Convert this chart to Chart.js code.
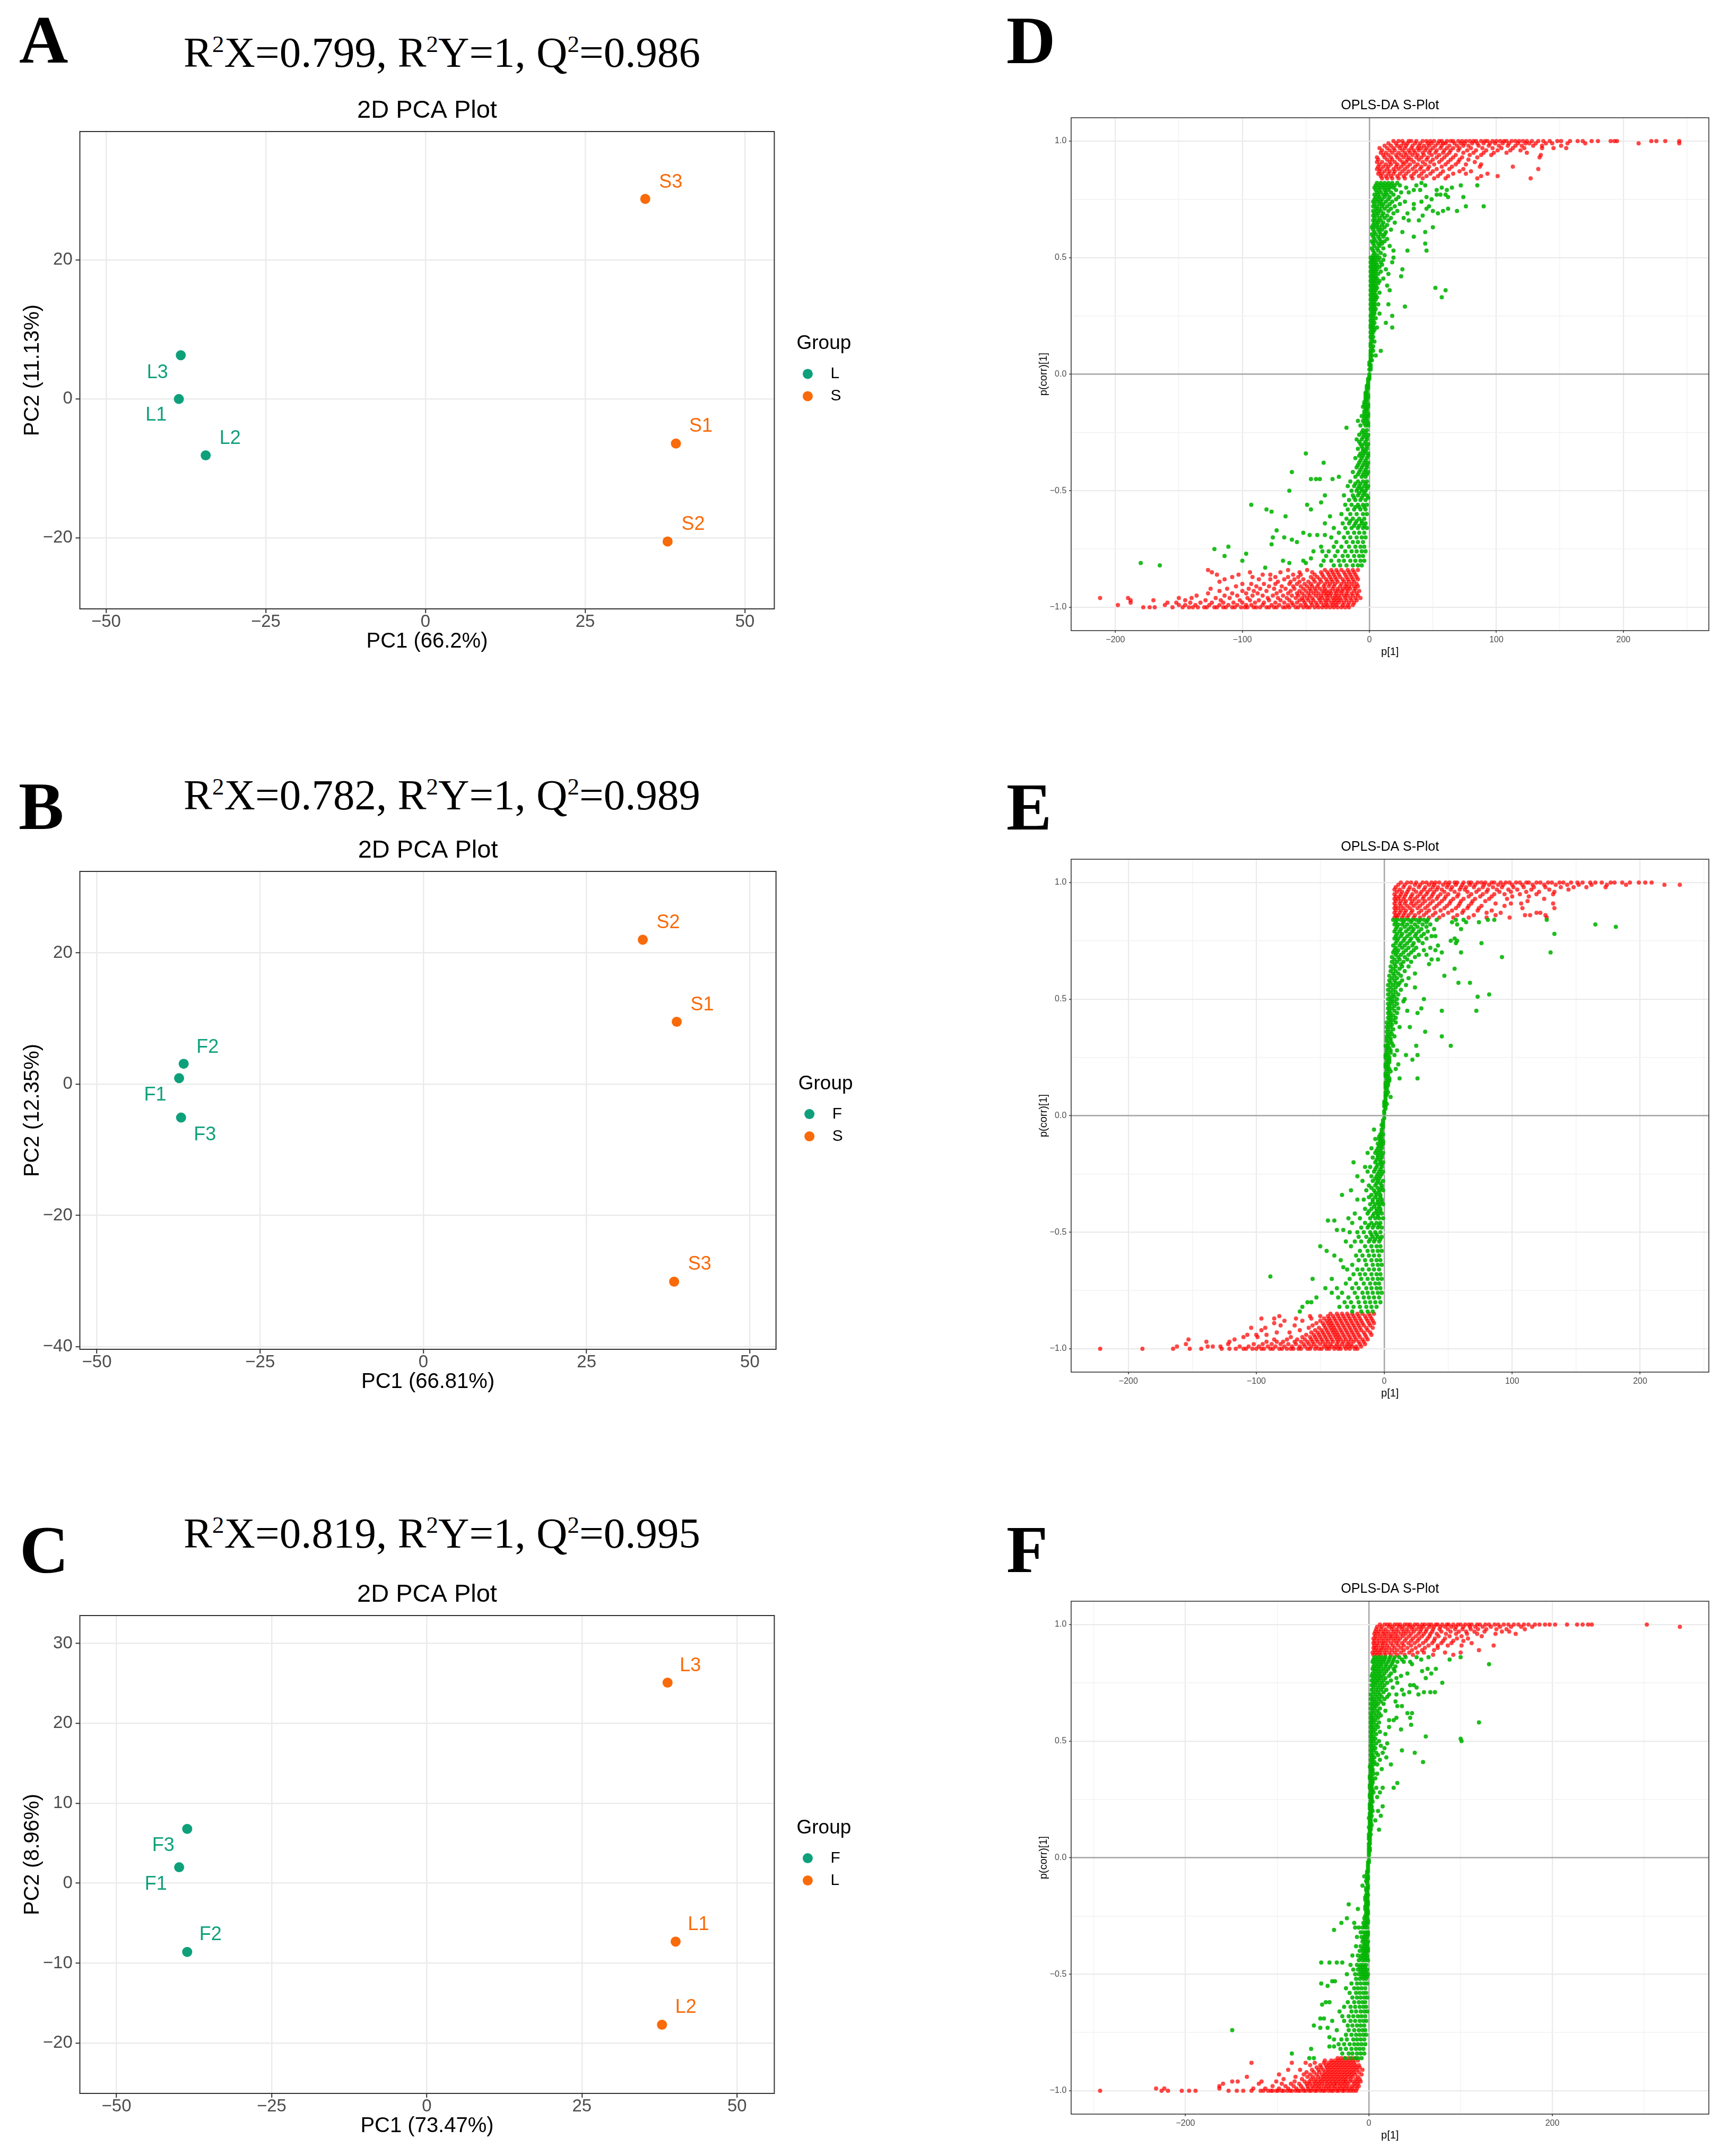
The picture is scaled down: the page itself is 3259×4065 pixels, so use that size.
<!DOCTYPE html>
<html>
<head>
<meta charset="utf-8">
<title>PCA and OPLS-DA S-plots</title>
<script src="https://cdn.jsdelivr.net/npm/chart.js@4.4.1/dist/chart.umd.min.js"></script>
<style>
  html, body { margin: 0; padding: 0; background: #fff; }
  body { width: 3259px; height: 4065px; position: relative; overflow: hidden; }
  .box { position: absolute; }
  .letter { position: absolute; font: bold 128px/128px "Liberation Serif", "Times New Roman", serif; color: #000; }
  .stats { position: absolute; width: 1100px; text-align: center; white-space: nowrap;
           font: 81px/81px "Liberation Serif", "Times New Roman", serif; color: #000; }
  .stats sup { font-size: 45px; line-height: 0; vertical-align: baseline; position: relative; top: -28px; }
</style>
</head>
<body>

<div class="letter" style="left:36px;top:11px">A</div>
<div class="stats" style="left:283px;top:59px">R<sup>2</sup>X=0.799, R<sup>2</sup>Y=1, Q<sup>2</sup>=0.986</div>
<div class="box" style="left:0;top:138px;width:1650px;height:1110px"><canvas id="pcaA"></canvas></div>

<div class="letter" style="left:35px;top:1456px">B</div>
<div class="stats" style="left:283px;top:1459px">R<sup>2</sup>X=0.782, R<sup>2</sup>Y=1, Q<sup>2</sup>=0.989</div>
<div class="box" style="left:0;top:1533px;width:1650px;height:1111px"><canvas id="pcaB"></canvas></div>

<div class="letter" style="left:37px;top:2858px">C</div>
<div class="stats" style="left:283px;top:2851px">R<sup>2</sup>X=0.819, R<sup>2</sup>Y=1, Q<sup>2</sup>=0.995</div>
<div class="box" style="left:0;top:2936px;width:1650px;height:1111px"><canvas id="pcaC"></canvas></div>

<div class="letter" style="left:1897px;top:12px">D</div>
<div class="box" style="left:1930px;top:169px;width:1329px;height:1085px"><canvas id="splotD"></canvas></div>

<div class="letter" style="left:1897px;top:1457px">E</div>
<div class="box" style="left:1930px;top:1567px;width:1329px;height:1085px"><canvas id="splotE"></canvas></div>

<div class="letter" style="left:1897px;top:2857px">F</div>
<div class="box" style="left:1930px;top:2966px;width:1329px;height:1085px"><canvas id="splotF"></canvas></div>

<script>
// ---- PCA scores ----
const aNames = ['L1', 'L2', 'L3', 'S1', 'S2', 'S3'];
const aGroup = ['L', 'L', 'L', 'S', 'S', 'S'];
const aPC1 = [-38.6, -34.4, -38.3, 39.2, 37.9, 34.4];
const aPC2 = [0.0, -8.1, 6.3, -6.4, -20.5, 28.8];

const bNames = ['F1', 'F2', 'F3', 'S1', 'S2', 'S3'];
const bGroup = ['F', 'F', 'F', 'S', 'S', 'S'];
const bPC1 = [-37.4, -36.7, -37.1, 38.8, 33.6, 38.4];
const bPC2 = [0.9, 3.1, -5.1, 9.5, 22.0, -30.1];

const cNames = ['F1', 'F2', 'F3', 'L1', 'L2', 'L3'];
const cGroup = ['F', 'F', 'F', 'L', 'L', 'L'];
const cPC1 = [-39.9, -38.6, -38.6, 40.1, 37.9, 38.8];
const cPC2 = [2.0, -8.6, 6.8, -7.3, -17.7, 25.1];

const pcaXTitles = ['PC1 (66.2%)', 'PC1 (66.81%)', 'PC1 (73.47%)'];
const pcaYTitles = ['PC2 (11.13%)', 'PC2 (12.35%)', 'PC2 (8.96%)'];

// tick positions
const pcaXTicks = [-50, -25, 0, 25, 50];
const aYTicks = [-20, 0, 20];
const bYTicks = [-40, -20, 0, 20];
const cYTicks = [-20, -10, 0, 10, 20, 30];
const deXTicks = [-200, -150, -100, -50, 0, 50, 100, 150, 200, 250];
const fXTicks = [-300, -200, -100, 0, 100, 200, 300];
const sYTicks = [-1, -0.75, -0.5, -0.25, 0, 0.25, 0.5, 0.75, 1];

// ---- S-plot loadings, rows of [p(corr), p1, p1, ...] ----
const dRedUp = [
  [1.00,19,23,26,31,33,37,42,45,48,51,55,57,61,64,66,70,73,76,79,82,84,88,91,93,97,100,103,106,108,112,115,118,121,124,128,133,137,142,148,151,158,164,168,175,180,190,193,195,222,226,233,244],
  [.99,15,21,27,30,36,40,46,49,54,58,60,67,72,75,81,85,90,95,99,105,110,117,123,126,131,139,144,156,170,212,244],
  [.98,12,17,22,25,29,34,39,43,47,52,57,63,69,74,78,86,94,102,109,115,120,129,136,151],
  [.97,8,14,19,24,28,33,38,41,45,50,56,61,66,71,80,89,97,104,113,122,136,145,155],
  [.96,10,16,20,26,31,35,39,44,48,53,59,64,70,77,84,92,101,111,119],
  [.95,9,13,18,23,28,32,36,42,47,52,58,63,74,82,90,98,108,124],
  [.94,11,15,21,25,29,34,38,43,49,55,61,68,79,88,96,135],
  [.93,6,12,17,22,27,31,37,41,46,53,59,66,73,85,134],
  [.92,7,14,18,24,30,33,39,45,50,57,64,71,78],
  [.91,6,10,16,20,26,29,35,42,48,55,62,70,83],
  [.90,8,13,17,22,27,32,38,44,51,60,68,76,88],
  [.89,7,11,15,21,25,30,36,41,47,57,65,87,113],
  [.88,6,9,14,19,23,28,34,40,46,53,63,74,133],
  [.87,8,12,16,20,26,31,37,43,50,58,71,80],
  [.86,7,10,15,19,24,29,35,41,48,56,66,76,93],
  [.85,9,13,17,22,27,33,39,45,54,62,88,101],
  [.84,10,14,18,23,28,34,42,51,60,85,127]
];
const dRedLow = [
  [-1.00,-178,-173,-169,-155,-147,-142,-139,-135,-130,-128,-122,-120,-115,-113,-108,-106,-101,-98,-96,-91,-89,-86,-81,-79,-75,-73,-68,-66,-63,-58,-56,-52,-49,-47,-43,-40,-37,-34,-31,-28,-25,-22,-19,-16],
  [-.99,-198,-161,-150,-145,-137,-126,-118,-111,-104,-97,-93,-84,-77,-71,-64,-60,-54,-50,-45,-41,-36,-33,-29,-26,-21,-17,-13],
  [-.98,-188,-159,-152,-141,-133,-124,-115,-107,-100,-90,-83,-74,-67,-61,-57,-51,-46,-42,-38,-34,-30,-27,-24,-20,-16,-12],
  [-.97,-188,-170,-145,-129,-117,-102,-94,-87,-79,-70,-63,-55,-52,-48,-44,-39,-35,-32,-28,-25,-22,-18,-14,-10],
  [-.96,-212,-190,-150,-140,-121,-110,-96,-80,-72,-65,-58,-53,-49,-45,-40,-37,-33,-29,-26,-23,-19,-15,-11,-7],
  [-.95,-136,-114,-104,-92,-84,-76,-68,-61,-56,-51,-47,-42,-38,-34,-31,-27,-24,-20,-17,-13,-9],
  [-.94,-127,-108,-97,-88,-73,-64,-57,-53,-48,-44,-40,-36,-33,-30,-26,-22,-18,-14,-10],
  [-.93,-118,-100,-91,-81,-70,-62,-55,-50,-46,-42,-37,-34,-31,-27,-24,-21,-17,-12,-8],
  [-.92,-125,-112,-95,-86,-75,-66,-59,-52,-47,-43,-39,-35,-29,-25,-21,-18,-15,-11],
  [-.91,-105,-89,-79,-69,-60,-54,-49,-45,-41,-36,-32,-28,-23,-19,-16,-12,-9],
  [-.90,-100,-93,-83,-74,-63,-57,-51,-46,-40,-35,-31,-27,-22,-18,-14,-10],
  [-.89,-118,-72,-62,-55,-48,-43,-38,-33,-29,-25,-20,-16,-12],
  [-.88,-114,-87,-78,-67,-59,-52,-44,-39,-34,-30,-26,-21,-17,-13,-9],
  [-.87,-108,-92,-74,-64,-56,-46,-41,-36,-31,-27,-23,-18,-14,-10],
  [-.86,-120,-103,-84,-78,-60,-54,-43,-37,-32,-28,-24,-19,-15,-11],
  [-.85,-124,-94,-70,-55,-45,-38,-33,-29,-25,-20,-16,-12],
  [-.84,-127,-64,-49,-35,-30,-26,-22,-17,-13,-9]
];
const dGreen = [
  [.82,6,9,12,15,18,22,41],[.81,5,8,11,14,17,20,24,37,44,72,85],[.80,4,7,10,13,16,19,29,57,65],
  [.79,5,8,12,15,21,35,40,53,61],[.78,6,9,13,17,25,31],[.77,4,7,11,14,19,53,56,60],
  [.76,5,8,12,16,23,45,62,74],[.75,4,7,10,15,21,49],[.74,3,6,9,13,18,28,41],[.73,4,8,11,16,24,35],
  [.72,3,6,10,14,20,47,76,90],[.71,5,8,12,17,35,45,62],[.70,3,6,9,15,22,50,58,69],[.69,4,7,11,19,30,54],
  [.68,3,6,10,14,42],[.67,4,8,12,17,27],[.66,3,6,9,15,31,39],[.65,4,7,11,20],[.64,3,6,10,14],
  [.63,2,5,8,12,50],[.62,3,7,10,17],[.61,4,8,13,26,44],[.60,2,5,9,12],[.59,3,7,11,35],[.58,4,8,14],
  [.57,2,5,9,12],[.56,3,7,10,44],[.55,4,8,16],[.54,2,6,11],[.53,3,7,19,30,45],[.52,4,9],[.51,3,6,12],
  [.50,1,3,5,8,19],[.49,2,4,7,11],[.48,1,3,5,9,18],[.47,2,4,6,10],[.46,1,3,5,8],[.45,2,4,6,13,26],[.44,1,3,5,9],
  [.43,2,4,7,15],[.42,1,3,5,25],[.41,2,4,6,11],[.40,1,3,5,8],[.39,2,4,7],[.38,1,3,5,14],[.37,2,4,6,52],
  [.36,1,3,5,16,60],[.35,2,4,8],[.34,1,3,5],[.33,2,4,6,57],[.32,1,3,5],[.31,2,4],[.30,1,3,4,7,15],[.29,2,4,28],
  [.28,1,3,5],[.27,2,4],[.26,2,4,8],[.25,1,3,18],[.24,2,5],[.23,1,3],[.22,2,4,13],[.21,1,3],[.20,1,3,6,18],
  [.19,2,4],[.18,1,3],[.17,2],[.16,1,3],[.15,2],[.14,2,4],[.13,1],[.12,1,3],[.11,2],[.10,1,3,9],[.09,1],
  [.08,1,2,5],[.07,1],[.06,1,2],[.05,0],[.04,0,1],[.03,1],[.02,0,1],[0,0],
  [-.01,0],[-.02,0,-1],[-.03,-1],[-.04,-1],[-.05,-1,-2],[-.06,-1,-2],[-.07,-2],[-.08,-2,-3],[-.09,-1,-3],
  [-.10,-1,-3],[-.11,-2,-3],[-.12,-2,-4],[-.13,-1,-4],[-.14,-1,-3,-5],[-.15,-2,-3],[-.16,-2,-4],[-.17,-1,-4],
  [-.18,-1,-3,-6],[-.19,-2,-4],[-.20,-2,-5,-9],[-.21,-1,-4],[-.22,-1,-3,-7],[-.23,-18],[-.24,-2,-5],
  [-.25,-3,-6],[-.26,-1,-4,-8],[-.27,-2,-5],[-.28,-2,-6,-10],[-.29,-3,-8],[-.30,-1,-4,-7],[-.31,-2,-6],
  [-.32,-2,-5,-9],[-.33,-3,-5],[-.34,-1,-4,-7,-50],[-.35,-1,-5,-8],[-.36,-2,-6,-11],[-.37,-3,-7],
  [-.38,-1,-4,-8,-36],[-.39,-2,-5,-9],[-.40,-2,-6,-10],[-.41,-3,-7],[-.42,-1,-4,-8,-13,-61],[-.43,-2,-5,-9],
  [-.44,-3,-6,-11,-24],[-.45,-29,-39,-42,-46],[-.46,-2,-5,-9,-15],[-.47,-3,-7,-11],[-.48,-1,-4,-8,-12,-17],
  [-.49,-2,-6,-9],[-.50,-3,-6,-10,-14,-63],[-.51,-4,-8],[-.52,-2,-5,-9,-13,-20,-35],[-.53,-1,-6,-12],
  [-.54,-3,-7,-11,-16],[-.55,-38],
  [-.56,-2,-5,-9,-14,-19,-49,-93],[-.57,-4,-8,-11],[-.58,-3,-7,-12,-17,-46,-81],[-.59,-77],[-.60,-2,-5,-10,-15,-22],
  [-.61,-31,-66],[-.62,-4,-8,-13,-18],[-.63,-6,-10,-15],[-.64,-3,-6,-11,-16,-21,-35],[-.65,-4,-8,-12],
  [-.66,-2,-5,-9,-14,-19,-28],[-.67,-73],
  [-.68,-4,-8,-12,-17,-24,-52],[-.69,-47,-41,-35],[-.70,-3,-6,-10,-15,-20,-30,-67,-76],[-.71,-61],
  [-.72,-5,-9,-13,-18,-26,-57],[-.73,-77],[-.74,-4,-7,-11,-16,-22,-28,-38,-111],[-.75,-122],
  [-.76,-3,-6,-10,-14,-19,-25,-32,-37,-44],[-.77,-97],[-.78,-5,-8,-12,-17,-21,-27,-34,-114],[-.79,-46],
  [-.80,-4,-7,-11,-15,-20,-24,-30,-36,-52,-68,-100],[-.81,-63,-50,-180],[-.82,-6,-9,-13,-18,-23,-28,-38,-165],
  [-.83,-82]
];

const eRedUp = [
  [1.00,13,18,21,25,30,33,37,40,43,48,51,55,57,62,66,68,73,76,79,84,86,91,95,98,103,106,111,113,119,122,128,131,137,140,146,151,155,161,165,170,177,180,186,192,199,204,209],
  [.99,11,16,24,28,35,39,46,50,56,61,67,71,78,82,89,93,100,108,116,125,134,143,152,162,174,189,219,231],
  [.98,9,15,20,27,32,38,42,49,53,60,64,70,77,85,92,101,109,117,126,138,148,158,173],
  [.97,8,12,19,23,31,36,41,45,52,59,63,74,81,88,97,104,115,129,144],
  [.96,10,14,18,25,29,34,39,47,55,65,72,80,90,99,111,121,133],
  [.95,8,13,17,22,28,33,38,44,50,58,68,77,86,94,106,119,132],
  [.94,9,12,16,21,26,31,37,42,48,57,66,75,84,100,113],
  [.93,8,11,15,20,24,30,35,41,47,54,62,71,82,96,125],
  [.92,9,13,17,22,27,32,38,45,52,60,69,79,112],
  [.91,8,12,16,21,25,30,36,43,51,59,68,87,99,107,132],
  [.90,9,13,18,23,28,34,41,49,58,66,76,94],
  [.89,8,11,15,20,26,32,39,47,56,65,74,108,133],
  [.88,9,13,17,22,29,35,44,53,62,73,84],
  [.87,8,12,16,21,27,33,40,50,61,80,91,119,122],
  [.86,9,11,15,19,24,31,38,46,57,70,87,110,114,126],
  [.85,8,10,14,18,23,28,35,43,54,66,80,98,127]
];
const eRedLow = [
  [-1.00,-222,-189,-165,-152,-143,-127,-121,-116,-110,-108,-103,-100,-96,-94,-89,-87,-82,-80,-76,-73,-71,-67,-65,-60,-58,-54,-51,-49,-45,-43,-39,-36,-34,-30,-27,-23,-21],
  [-.99,-162,-138,-134,-128,-113,-106,-98,-91,-85,-78,-72,-66,-62,-57,-53,-47,-44,-41,-38,-35,-31,-28,-25,-22,-18],
  [-.98,-155,-122,-102,-95,-88,-81,-75,-69,-63,-59,-55,-50,-46,-42,-37,-33,-29,-26,-19,-15],
  [-.97,-139,-121,-92,-84,-79,-70,-65,-60,-56,-52,-48,-44,-40,-36,-32,-28,-24,-20,-16],
  [-.96,-153,-117,-86,-76,-68,-62,-57,-53,-49,-45,-41,-37,-34,-30,-26,-22,-17,-13],
  [-.95,-110,-99,-73,-64,-58,-54,-50,-46,-42,-38,-35,-31,-27,-23,-19,-14],
  [-.94,-107,-100,-92,-61,-55,-51,-47,-43,-39,-36,-32,-28,-24,-20,-15,-10],
  [-.93,-84,-74,-57,-52,-48,-44,-40,-37,-33,-29,-25,-21,-16,-11],
  [-.92,-96,-66,-54,-49,-45,-41,-38,-34,-30,-26,-22,-18,-13],
  [-.91,-104,-93,-59,-51,-46,-42,-39,-35,-31,-27,-23,-19,-14,-9],
  [-.90,-81,-70,-56,-47,-43,-40,-36,-32,-28,-24,-20,-16,-11],
  [-.89,-86,-53,-48,-44,-41,-37,-33,-29,-25,-21,-17,-12,-8],
  [-.88,-78,-64,-50,-45,-42,-38,-34,-30,-26,-22,-18,-13,-9],
  [-.87,-96,-86,-69,-57,-47,-43,-39,-35,-31,-27,-23,-19,-14,-10],
  [-.86,-82,-58,-50,-44,-40,-36,-32,-28,-24,-20,-15,-11],
  [-.85,-42,-37,-33,-29,-25,-21,-17,-12,-8]
];
const eGreen = [
  [.84,7,10,13,16,19,22,25,28,31,34,41,56,62,81,86,127],[.83,9,15,21,27,33,53,64,74],[.82,8,11,14,18,24,30,36,57,165],
  [.81,10,16,21,26,33,181],[.80,9,13,19,23,29,39,60],[.79,8,12,17,22,27,34],[.78,10,14,20,25,31,133],
  [.77,9,13,18,24,29,37,40],[.76,8,11,16,21,26,33,55],[.75,10,15,20,27,52,57],[.74,9,13,18,23,30,56,76],
  [.73,7,12,16,22,42],[.72,9,14,19,25,36],[.71,8,11,17,23,31,40],[.70,7,10,15,21,45,60,130],[.69,9,13,19,27,33],
  [.68,6,11,16,24,92],[.67,8,12,18,37,42],[.66,6,10,15,21],[.65,8,13,35],[.64,5,9,14,19],[.63,7,12,55],
  [.62,5,9,16],[.61,7,11,24],[.60,4,8,13,47],[.59,6,10,19],[.58,4,8,14],[.57,5,9,12,58,67],[.56,3,7,11,17],
  [.55,5,9,24],[.54,3,7,13],[.53,5,9],[.52,3,7,11,82],[.51,5,8,73],[.50,3,6,10,16,31],[.49,5,8,15],[.48,3,6,10],
  [.47,4,8],[.46,3,6,11,29],[.45,4,8,18,45,72],[.44,3,5,10,26],[.43,4,7],[.42,3,5,9],[.41,4,7],[.40,2,5,9],
  [.39,3,6],[.38,2,5,12,20],[.37,3,7],[.36,2,5,32],[.35,3,6],[.34,2,4,8,45],[.33,2,5],[.32,2,5],[.31,3,6],
  [.30,1,3,7,25,52],[.29,2,4],[.28,2,5,10],[.27,2,5],[.26,1,3,8,17,26],[.25,1,4],[.24,2,4,22],[.23,2,4],
  [.22,1,3,11],[.21,1,3],[.20,2,4,9],[.19,2,5],[.18,1,3],[.17,1,3],[.16,2,4,12,26],[.15,2,4],[.14,1,3],
  [.13,1,3],[.12,1,2],[.11,2],[.10,1,3],[.09,1,2],[.08,1,5],[.07,1],[.06,0,1],[.05,0,2],[.04,0,1],[.03,1],
  [.02,0],[.01,0],
  [-.01,0],[-.02,-1],[-.03,-1],[-.04,-1,-2],[-.05,-1],[-.06,-2,-8],[-.07,-2],[-.08,-1,-3],[-.09,-2,-4],
  [-.10,-2,-4,-7],[-.11,-1,-3],[-.12,-1,-3,-5],[-.13,-2,-4],[-.14,-2,-5,-10],[-.15,-3,-6],
  [-.16,-1,-4,-7,-13],[-.17,-2,-5],[-.18,-2,-5,-9],[-.19,-3,-6],[-.20,-1,-3,-7,-24],[-.21,-2,-5],
  [-.22,-2,-6,-11,-15],[-.23,-3,-7],[-.24,-1,-4,-8,-13],[-.25,-2,-5],[-.26,-3,-6,-10,-21],[-.27,-4,-7],
  [-.28,-1,-5,-9,-17],[-.29,-3,-6],[-.30,-2,-7,-12],[-.31,-2,-5,-10],[-.32,-1,-4,-8,-14,-26],[-.33,-4,-7],
  [-.34,-3,-6,-10,-33],[-.35,-3,-7,-12],
  [-.36,-2,-5,-9,-16,-21],[-.37,-2,-5,-9],[-.38,-1,-4,-7,-11],[-.39,-4,-8],[-.40,-3,-6,-10,-15],
  [-.41,-3,-6,-12],[-.42,-2,-5,-8,-13,-23],[-.43,-5,-9],
  [-.44,-1,-4,-7,-11,-19,-28],[-.45,-44,-39],[-.46,-3,-6,-10,-15,-25],[-.47,-4,-8,-12],[-.48,-2,-5,-9,-13,-18],
  [-.49,-37,-32],[-.50,-3,-7,-11,-16,-21,-27],[-.51,-6,-10],[-.52,-2,-5,-9,-14,-20],[-.53,-3,-7,-11],
  [-.54,-4,-8,-12,-18,-23,-30],[-.56,-3,-6,-10,-15,-26,-50],
  [-.58,-2,-5,-9,-13,-19,-45],[-.60,-4,-8,-12,-17,-22,-39],[-.62,-3,-6,-10,-15,-20,-34],[-.64,-2,-5,-9,-14,-25],
  [-.65,-32],[-.66,-4,-8,-12,-17,-21,-29],[-.68,-3,-6,-10,-15,-19,-24],[-.69,-89],[-.70,-2,-5,-9,-13,-18,-27,-41,-56],
  [-.72,-4,-7,-11,-16,-22,-30],[-.74,-3,-6,-10,-14,-20,-25,-37,-46],[-.76,-2,-5,-9,-13,-17,-23,-33,-41],
  [-.78,-4,-8,-12,-16,-21,-28,-36,-53],[-.80,-3,-7,-11,-15,-20,-26,-31,-57,-60],[-.82,-6,-10,-14,-19,-24,-29,-35,-64],
  [-.84,-9,-13,-18,-25,-66]
];

const fRedUp = [
  [1.00,12,17,20,23,28,31,34,39,42,45,50,53,58,61,65,68,73,75,80,85,87,92,97,100,105,109,112,118,121,127,131,137,141,147,152,158,163,169,174,181,186,192,197,203,216,227,233,239,243,303],
  [.99,9,14,22,26,33,37,44,48,55,59,66,71,78,83,90,95,103,110,116,124,133,143,155,166,178,339],
  [.98,8,13,18,25,30,36,41,47,52,57,63,70,77,86,94,102,111,119,128,139,150,170],
  [.97,7,11,16,21,27,32,38,43,49,56,62,69,79,89,98,106,115,126,145,153],
  [.96,6,10,15,19,24,29,35,40,46,54,60,67,74,84,95,107,118,138,160],
  [.95,7,12,17,22,26,31,37,44,51,58,66,76,88,101,123],
  [.94,5,9,14,19,24,29,34,41,48,55,64,72,83,96,108],
  [.93,6,11,16,21,27,32,39,46,53,62,71,81,92,103],
  [.92,5,9,14,18,24,30,36,43,50,59,69,79,90,112],
  [.91,6,10,15,20,26,32,38,46,55,65,75,86,101,136],
  [.90,5,8,13,17,22,28,35,42,51,61,75],
  [.89,6,10,14,19,25,31,38,47,58,71,120],
  [.88,4,8,12,17,22,28,35,44,53,60,83,100],
  [.87,5,9,13,18,24,31,39,48,70,92]
];
const fRedLow = [
  [-1.00,-293,-226,-219,-204,-196,-189,-153,-144,-137,-128,-118,-115,-110,-107,-105,-101,-99,-95,-93,-89,-86,-84,-80,-77,-75,-71,-69,-65,-63,-59,-57,-53,-50,-48,-44,-41,-39,-35,-33,-29,-27,-23,-20,-17,-14],
  [-.99,-232,-223,-163,-126,-113,-98,-88,-79,-72,-66,-61,-56,-52,-47,-43,-38,-34,-30,-26,-22,-18,-13],
  [-.98,-163,-105,-91,-82,-74,-67,-62,-58,-54,-49,-45,-41,-37,-32,-28,-24,-19,-15,-11],
  [-.97,-159,-120,-95,-85,-76,-68,-64,-59,-55,-51,-46,-42,-38,-35,-31,-27,-23,-16,-12],
  [-.96,-149,-143,-117,-101,-81,-70,-65,-60,-56,-52,-48,-44,-40,-36,-32,-28,-25,-21,-17,-13,-9],
  [-.95,-93,-73,-63,-58,-53,-49,-45,-41,-37,-33,-29,-25,-20,-14,-10],
  [-.94,-133,-80,-67,-61,-55,-50,-46,-42,-38,-34,-30,-26,-22,-18,-12],
  [-.93,-98,-71,-64,-57,-51,-47,-43,-39,-35,-31,-27,-23,-19,-15,-8],
  [-.92,-68,-60,-54,-48,-44,-40,-36,-32,-28,-24,-20,-16,-11],
  [-.91,-88,-75,-62,-55,-50,-45,-41,-37,-33,-29,-25,-21,-17,-13,-7],
  [-.90,-57,-52,-46,-42,-38,-34,-30,-26,-22,-18,-14,-10],
  [-.89,-64,-53,-47,-43,-39,-35,-31,-27,-23,-19,-15,-11],
  [-.88,-128,-84,-69,-59,-49,-44,-40,-36,-32,-28,-24,-20,-16],
  [-.87,-48,-41,-37,-33,-29,-25,-21,-17,-12],
  [-.86,-34,-30,-26,-22,-18,-14]
];
const fGreen = [
  [.86,6,10,14,18,23,28,33,40,52,65,100],[.85,5,9,13,17,22,27,36,57,88],[.84,4,8,12,16,21,26,31,38,45],
  [.83,6,10,14,19,25,47,131],[.82,5,9,13,18,23,29],[.81,4,7,11,16,21,27,64,73],[.80,6,10,14,19,28,58],
  [.79,4,8,12,17,24,42,68],[.78,3,7,11,15,22,35],[.77,5,9,13,18,30,62],[.76,3,7,11,16,24],[.75,5,9,14,20,31,80],
  [.74,3,7,12,17,45,49],[.73,5,10,15,26,52],[.72,3,8,13,19,36],[.71,5,10,16,44,60,67,72],[.70,2,7,12,22,30,38,54],
  [.69,4,9,14,20],[.68,2,6,11,17],[.67,4,8,13,29],[.66,2,6,10,16],[.65,4,8,31,36],[.64,2,6,12],[.63,4,9,18],
  [.62,2,6,11,42,47],[.61,3,8,13],[.60,2,5,10,30,45],[.59,3,7,22,27],[.58,2,5,11,120],[.57,3,8,46],[.56,2,5,10,22],
  [.55,3,7,35],[.54,2,5,12],[.53,3,8,18],[.52,2,5,62],[.51,3,7,100],[.50,2,5,11,101],[.49,3,8,20],[.48,2,5,13],
  [.47,3,7,17],[.46,2,5,36],[.45,3,8,15,50],[.44,2,4,10],[.43,3,6,19],[.42,2,4,12],[.41,3,6,59],[.40,2,5,9,24],
  [.39,1,3],[.38,2,4,14],[.37,2,4],[.36,2,5,9],[.35,1,3],[.34,1,3,7],[.33,2,4],[.32,2,4,31],[.31,1,3],
  [.30,1,3,8,15,27],[.29,2,4],[.28,2,5,12],[.27,1,3],[.26,1,3,9],[.25,2,3],[.24,2,4],[.23,1,2],
  [.22,1,3,15],[.21,1,3],[.20,2,4,10],[.19,1,2],[.18,1,3,13],[.17,0,2],[.16,1,2,7],[.15,1,2],[.14,1,3],
  [.13,0,2],[.12,1,2,11],[.11,1],[.10,0,2],[.09,0,1],[.08,0,1],[.07,1],[.06,0,1],[.05,0],
  [.04,0,1],[.03,0,1],[.02,0],[.01,0],
  [-.01,0],[-.02,0,-1],[-.03,-1],[-.04,-1],[-.05,-1],[-.06,-1,-2],[-.07,-2],[-.08,-1,-5],[-.09,-1,-2],
  [-.10,-2,-3],[-.11,-2],[-.12,-1,-7],[-.13,-1,-3],[-.14,-2,-3],[-.15,-2],[-.16,-1,-3],[-.17,-2,-4],
  [-.18,-2,-4],[-.19,-1,-3],[-.20,-1,-3,-22],[-.21,-2,-4],[-.22,-2,-4,-12],[-.23,-1,-3],[-.24,-1,-3],
  [-.25,-2,-4],[-.26,-2,-5,-24],[-.27,-1,-4],[-.28,-1,-3,-6,-16,-30],[-.29,-3,-5],
  [-.30,-2,-4,-7,-11,-15],[-.31,-38],[-.32,-1,-3,-6,-9],[-.33,-1,-4],[-.34,-2,-5,-8,-13],[-.35,-3,-6],
  [-.36,-1,-4,-7],[-.37,-2,-5],[-.38,-2,-5,-9,-14],[-.39,-1,-4,-7],
  [-.40,-1,-3,-6,-10],[-.41,-3,-6],[-.42,-2,-5,-8,-12,-18],[-.43,-2,-5,-9],[-.44,-1,-4,-7,-11],
  [-.45,-52,-43,-35,-29],[-.46,-3,-6,-9,-13,-20],[-.47,-4,-7,-10],
  [-.48,-2,-5,-8,-12,-17],[-.49,-3,-6,-9],[-.50,-1,-4,-7,-11,-15,-24],[-.51,-2,-5,-8],[-.52,-3,-6,-10,-14],
  [-.53,-40,-37],
  [-.54,-2,-5,-9,-13,-19,-52],[-.55,-45],[-.56,-4,-8,-12,-16,-25],[-.58,-3,-6,-10,-14,-21],[-.60,-2,-5,-9,-13,-18],
  [-.62,-4,-7,-11,-16,-23,-43,-47],[-.63,-51],[-.64,-3,-6,-10,-15,-20,-27],[-.66,-2,-5,-9,-14,-19,-32],
  [-.68,-4,-8,-12,-17,-22,-29],[-.69,-49,-53],[-.70,-3,-6,-10,-15,-20,-27,-40],[-.72,-5,-9,-13,-18,-23,-60],
  [-.73,-45,-53],[-.74,-4,-7,-11,-16,-22,-35,-149],[-.76,-3,-6,-10,-14,-19,-25],[-.77,-43],
  [-.78,-5,-9,-13,-17,-24,-30,-38],[-.80,-4,-8,-12,-16,-21,-27,-33],[-.81,-38,-43],
  [-.82,-6,-10,-14,-19,-25,-31,-63],[-.84,-5,-9,-13,-18,-22,-29,-84],[-.86,-8,-12,-15,-20,-26,-60,-65]
];

// ---- styling ----
const teal = '#0EA07B';
const orange = '#F96A0A';
const sRed = 'rgba(255, 0, 0, 0.72)';
const sGreen = 'rgba(0, 180, 0, 0.88)';

// label offsets (px) for the sample names, same order as the names
const aNudge = [[-43, 31], [46, -31], [-44, 33], [47, -32], [48, -32], [48, -31]];
const bNudge = [[-45, 32], [45, -31], [45, 33], [48, -31], [48, -32], [48, -32]];
const cNudge = [[-44, 32], [44, -32], [-45, 32], [43, -32], [45, -32], [43, -31]];

Chart.defaults.font.family = '"Liberation Sans", Arial, sans-serif';
Chart.defaults.color = '#000';
Chart.defaults.animation = false;

const MINUS = '\u2212';
function fmt(v, digits) {
  const s = digits ? Math.abs(v).toFixed(digits) : String(Math.abs(Math.round(v)));
  return (v < -1e-9 ? MINUS : '') + s;
}
function onStep(v, step) {
  return Math.abs(v / step - Math.round(v / step)) < 1e-6;
}
function fixedTicks(values) {
  return scale => { scale.ticks = values.map(v => ({ value: v })); };
}

// panel border, sample labels and the Group legend
const decor = {
  id: 'decor',
  afterDatasetsDraw(chart, args, o) {
    const ctx = chart.ctx;
    const a = chart.chartArea;
    ctx.save();
    if (o.labels) {
      ctx.font = '36px "Liberation Sans"';
      ctx.textAlign = 'center';
      ctx.textBaseline = 'middle';
      chart.data.datasets.forEach((ds, i) => {
        chart.getDatasetMeta(i).data.forEach((pt, j) => {
          ctx.fillStyle = ds.backgroundColor;
          ctx.fillText(ds.pointNames[j], pt.x + ds.nudges[j][0], pt.y + ds.nudges[j][1]);
        });
      });
    }
    ctx.strokeStyle = '#333';
    ctx.lineWidth = o.border || 2;
    ctx.strokeRect(a.left, a.top, a.right - a.left, a.bottom - a.top);
    if (o.legend) {
      const cy = (a.top + a.bottom) / 2;
      ctx.fillStyle = '#000';
      ctx.textAlign = 'left';
      ctx.textBaseline = 'alphabetic';
      ctx.font = '37px "Liberation Sans"';
      ctx.fillText('Group', a.right + 42, cy - 40);
      ctx.font = '30px "Liberation Sans"';
      ctx.textBaseline = 'middle';
      chart.data.datasets.forEach((ds, i) => {
        const y = cy + 7 + i * 42;
        ctx.fillStyle = ds.backgroundColor;
        ctx.beginPath();
        ctx.arc(a.right + 63, y, 9.5, 0, Math.PI * 2);
        ctx.fill();
        ctx.fillStyle = '#000';
        ctx.fillText(ds.label, a.right + 106, y);
      });
    }
    ctx.restore();
  }
};

function pcaChart(id, names, groups, pc1, pc2, nudges, xTitle, yTitle, xLim, yLim, yTicks, rightPad) {
  const groupNames = [...new Set(groups)];
  const colors = [teal, orange];
  const datasets = groupNames.map((g, k) => {
    const idx = groups.map((v, i) => (v === g ? i : -1)).filter(i => i >= 0);
    return {
      label: g,
      data: idx.map(i => ({ x: pc1[i], y: pc2[i] })),
      pointNames: idx.map(i => names[i]),
      nudges: idx.map(i => nudges[i]),
      backgroundColor: colors[k],
      borderWidth: 0,
      pointRadius: 9.5,
      pointHoverRadius: 9.5
    };
  });
  const tickFont = { size: 33, lineHeight: 1 };
  const grid = { color: '#EBEBEB', lineWidth: 2.5, tickLength: 8, tickColor: '#333', tickWidth: 2 };
  return new Chart(document.getElementById(id), {
    type: 'scatter',
    data: { datasets },
    plugins: [decor],
    options: {
      responsive: true,
      maintainAspectRatio: false,
      events: [],
      layout: { padding: { left: 0, top: 42.5, right: rightPad, bottom: 0 } },
      plugins: {
        legend: { display: false },
        tooltip: { enabled: false },
        title: {
          display: true, text: '2D PCA Plot', fullSize: false, color: '#000',
          font: { size: 47, weight: 'normal' }, padding: { top: 0, bottom: 11.1 }
        },
        decor: { labels: true, legend: true, border: 2 }
      },
      scales: {
        x: {
          type: 'linear', min: xLim[0], max: xLim[1],
          afterBuildTicks: fixedTicks(pcaXTicks),
          afterFit: s => { s.height = 100; },
          ticks: { autoSkip: false, maxRotation: 0, color: '#4D4D4D', font: tickFont, padding: 0.5,
                   callback: v => fmt(v) },
          grid: grid,
          border: { display: false },
          title: { display: true, text: xTitle, color: '#000', font: { size: 40 }, padding: { top: 0, bottom: 14.2 } }
        },
        y: {
          type: 'linear', min: yLim[0], max: yLim[1],
          afterBuildTicks: fixedTicks(yTicks),
          afterFit: s => { s.width = 150.5; },
          ticks: { autoSkip: false, color: '#4D4D4D', font: tickFont, padding: 5.7, callback: v => fmt(v) },
          grid: grid,
          border: { display: false },
          title: { display: true, text: yTitle, color: '#000', font: { size: 40 }, padding: { top: 37.9, bottom: 0 } }
        }
      }
    }
  });
}

function rowsToPoints(rows) {
  const pts = [];
  rows.forEach(r => {
    for (let i = 1; i < r.length; i++) pts.push({ x: r[i], y: r[0] });
  });
  return pts;
}

function sPlot(id, redUp, redLow, green, xLim, xTicks, xMajor) {
  const tickFont = { size: 16, lineHeight: 1 };
  const gridFor = major => ({
    color: c => (c.tick && c.tick.value === 0) ? '#ABABAB' : (c.tick && onStep(c.tick.value, major) ? '#EAEAEA' : '#F2F2F2'),
    lineWidth: c => (c.tick && c.tick.value === 0) ? 2.7 : (c.tick && onStep(c.tick.value, major) ? 2.2 : 1.4),
    tickColor: c => (c.tick && onStep(c.tick.value, major)) ? '#333' : 'rgba(0,0,0,0)',
    tickLength: 4,
    tickWidth: 1.5
  });
  return new Chart(document.getElementById(id), {
    type: 'scatter',
    data: {
      datasets: [
        { label: 'green', data: rowsToPoints(green), backgroundColor: sGreen, borderWidth: 0, pointRadius: 4 },
        { label: 'red', data: rowsToPoints(redUp).concat(rowsToPoints(redLow)), backgroundColor: sRed, borderWidth: 0, pointRadius: 4 }
      ]
    },
    plugins: [decor],
    options: {
      responsive: true,
      maintainAspectRatio: false,
      events: [],
      layout: { padding: { left: 0, top: 14.8, right: 38, bottom: 0 } },
      plugins: {
        legend: { display: false },
        tooltip: { enabled: false },
        title: {
          display: true, text: 'OPLS-DA S-Plot', fullSize: false, color: '#000',
          font: { size: 25, weight: 'normal' }, padding: { top: 0, bottom: 8.2 }
        },
        decor: { labels: false, legend: false, border: 1.6 }
      },
      scales: {
        x: {
          type: 'linear', min: xLim[0], max: xLim[1],
          afterBuildTicks: fixedTicks(xTicks),
          afterFit: s => { s.height = 65; },
          ticks: { autoSkip: false, maxRotation: 0, color: '#4D4D4D', font: tickFont, padding: 5.5,
                   callback: v => onStep(v, xMajor) ? fmt(v) : '' },
          grid: gridFor(xMajor),
          border: { display: false },
          title: { display: true, text: 'p[1]', color: '#000', font: { size: 20 }, padding: { top: 0, bottom: 12.4 } }
        },
        y: {
          type: 'linear', min: -1.1, max: 1.1,
          afterBuildTicks: fixedTicks(sYTicks),
          afterFit: s => { s.width = 89; },
          ticks: { autoSkip: false, color: '#4D4D4D', font: tickFont, padding: 4.7,
                   callback: v => onStep(v, 0.5) ? fmt(v, 1) : '' },
          grid: gridFor(0.5),
          border: { display: false },
          title: { display: true, text: 'p(corr)[1]', color: '#000', font: { size: 20 }, padding: { top: 25, bottom: 0 } }
        }
      }
    }
  });
}

pcaChart('pcaA', aNames, aGroup, aPC1, aPC2, aNudge, pcaXTitles[0], pcaYTitles[0], [-54.1, 54.6], [-30.2, 38.5], aYTicks, 190.5);
pcaChart('pcaB', bNames, bGroup, bPC1, bPC2, bNudge, pcaXTitles[1], pcaYTitles[1], [-52.6, 54.0], [-40.4, 32.4], bYTicks, 187.3);
pcaChart('pcaC', cNames, cGroup, cPC1, cPC2, cNudge, pcaXTitles[2], pcaYTitles[2], [-55.9, 56.0], [-26.3, 33.5], cYTicks, 190.5);

sPlot('splotD', dRedUp, dRedLow, dGreen, [-234.8, 267.3], deXTicks, 100);
sPlot('splotE', eRedUp, eRedLow, eGreen, [-244.7, 253.7], deXTicks, 100);
sPlot('splotF', fRedUp, fRedLow, fGreen, [-324.6, 370.6], fXTicks, 200);
</script>
</body>
</html>
